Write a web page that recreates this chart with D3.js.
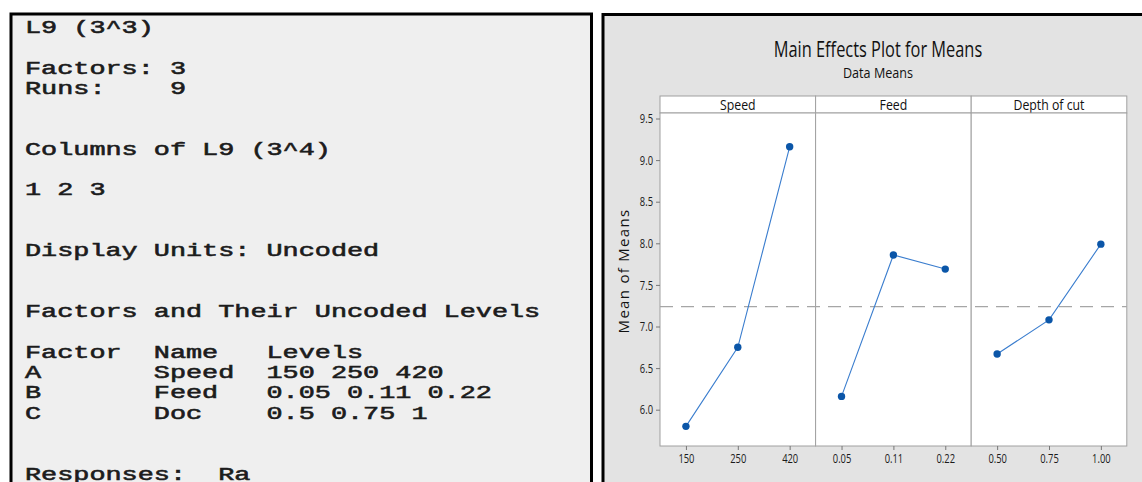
<!DOCTYPE html>
<html><head><meta charset="utf-8">
<script src="https://cdn.jsdelivr.net/npm/d3@7"></script>
<style>body{margin:0;background:#fff;overflow:hidden}</style>
</head><body><svg id="c" width="1142" height="482"></svg>
<script>
// ---- Data ----
const designLines = [
  "L9 (3^3)", "",
  "Factors: 3",
  "Runs:    9", "", "",
  "Columns of L9 (3^4)", "",
  "1 2 3", "", "",
  "Display Units: Uncoded", "", "",
  "Factors and Their Uncoded Levels", "",
  "Factor  Name   Levels",
  "A       Speed  150 250 420",
  "B       Feed   0.05 0.11 0.22",
  "C       Doc    0.5 0.75 1", "", "",
  "Responses:  Ra"
];
const factorNames = ["Speed", "Feed", "Depth of cut"];
const speedLevels = ["150", "250", "420"];
const feedLevels = ["0.05", "0.11", "0.22"];
const depthLevels = ["0.50", "0.75", "1.00"];
const speedMeans = [5.80, 6.75, 9.16];
const feedMeans = [6.16, 7.86, 7.69];
const depthMeans = [6.67, 7.08, 7.99];
const yTicks = [6.0, 6.5, 7.0, 7.5, 8.0, 8.5, 9.0, 9.5];
const chartTitle = "Main Effects Plot for Means";
const chartSubtitle = "Data Means";
const yLabel = "Mean of Means";

const levels = [speedLevels, feedLevels, depthLevels];
const means = [speedMeans, feedMeans, depthMeans];
const grandMean = d3.mean(means.flat());

const svg = d3.select("#c");

function condense(sel, k) {
  sel.each(function () {
    const w = this.getComputedTextLength();
    d3.select(this).attr("textLength", w * k).attr("lengthAdjust", "spacingAndGlyphs");
  });
}

// ---- Left panel: design summary ----
svg.append("rect").attr("x", 11).attr("y", 14).attr("width", 580.5).attr("height", 520)
  .attr("fill", "#efefef").attr("stroke", "#000").attr("stroke-width", 3);

const charW = 16.1, lineH = 20.3;
svg.append("g").selectAll("text").data(designLines).join("text")
  .attr("x", 25).attr("y", (d, i) => 33 + i * lineH)
  .attr("font-family", "Liberation Mono, Courier New, monospace")
  .attr("font-size", 17.5).attr("fill", "#1c1c1c")
  .attr("stroke", "#1c1c1c").attr("stroke-width", 0.55)
  .style("white-space", "pre")
  .text(d => d)
  .each(function (d) {
    if (d.length) d3.select(this).attr("textLength", d.length * charW).attr("lengthAdjust", "spacingAndGlyphs");
  });

// ---- Right panel: main effects plot ----
svg.append("rect").attr("x", 603).attr("y", 14.5).attr("width", 600).attr("height", 520)
  .attr("fill", "#e3e3e3").attr("stroke", "#000").attr("stroke-width", 3);

const font = "Open Sans, Segoe UI, sans-serif";
const plotL = 660, panelW = 155.6, plotT = 113, plotB = 446, stripT = 96;
const plotR = plotL + panelW * factorNames.length;

const y = d3.scaleLinear().domain([6, 9.5]).range([409.7, 118.5]);

svg.append("text").attr("x", 878).attr("y", 57).attr("text-anchor", "middle")
  .attr("font-family", font).attr("font-size", 21).attr("fill", "#111")
  .text(chartTitle).call(condense, 0.78);
svg.append("text").attr("x", 878).attr("y", 78).attr("text-anchor", "middle")
  .attr("font-family", font).attr("font-size", 15).attr("fill", "#111")
  .text(chartSubtitle).call(condense, 0.84);

svg.append("text")
  .attr("transform", `translate(629,271) rotate(-90)`)
  .attr("text-anchor", "middle").attr("font-family", font).attr("font-size", 15)
  .attr("letter-spacing", 1.3).attr("fill", "#111").text(yLabel);

factorNames.forEach((name, i) => {
  const x0 = plotL + i * panelW;
  const g = svg.append("g");
  g.append("rect").attr("x", x0).attr("y", stripT).attr("width", panelW).attr("height", plotT - stripT)
    .attr("fill", "#fff").attr("stroke", "#a0a0a0").attr("stroke-width", 1);
  g.append("text").attr("x", x0 + panelW / 2).attr("y", 109.5).attr("text-anchor", "middle")
    .attr("font-family", font).attr("font-size", 15).attr("fill", "#111")
    .text(name).call(condense, 0.82);
  g.append("rect").attr("x", x0).attr("y", plotT).attr("width", panelW).attr("height", plotB - plotT)
    .attr("fill", "#fff").attr("stroke", "#a0a0a0").attr("stroke-width", 1);
});

// reference line (grand mean)
svg.append("line").attr("x1", plotL).attr("x2", plotR)
  .attr("y1", y(grandMean)).attr("y2", y(grandMean))
  .attr("stroke", "#a6a6a6").attr("stroke-width", 1.2).attr("stroke-dasharray", "13,8");

factorNames.forEach((name, i) => {
  const x0 = plotL + i * panelW;
  const x = d3.scalePoint().domain(levels[i]).range([x0, x0 + panelW]).padding(0.5);
  const pts = levels[i].map((l, j) => ({ l, v: means[i][j] }));
  const g = svg.append("g");
  g.append("path").datum(pts)
    .attr("d", d3.line().x(d => x(d.l)).y(d => y(d.v)))
    .attr("fill", "none").attr("stroke", "#3a7dce").attr("stroke-width", 1.1);
  g.selectAll("circle").data(pts).join("circle")
    .attr("cx", d => x(d.l)).attr("cy", d => y(d.v)).attr("r", 3.7).attr("fill", "#0b56a8");
  const ax = svg.append("g").attr("transform", `translate(0,${plotB})`)
    .call(d3.axisBottom(x).tickSize(4).tickPadding(4));
  ax.select(".domain").remove();
  ax.selectAll("line").attr("stroke", "#777");
  ax.selectAll("text").attr("font-family", font).attr("font-size", 13).attr("fill", "#1a1a1a")
    .call(condense, 0.72);
});

const ay = svg.append("g").attr("transform", `translate(${plotL},0)`)
  .call(d3.axisLeft(y).tickValues(yTicks).tickFormat(d3.format(".1f")).tickSize(4).tickPadding(3));
ay.select(".domain").remove();
ay.selectAll("line").attr("stroke", "#777");
ay.selectAll("text").attr("font-family", font).attr("font-size", 13).attr("fill", "#1a1a1a")
  .call(condense, 0.72);
</script>
</body></html>
